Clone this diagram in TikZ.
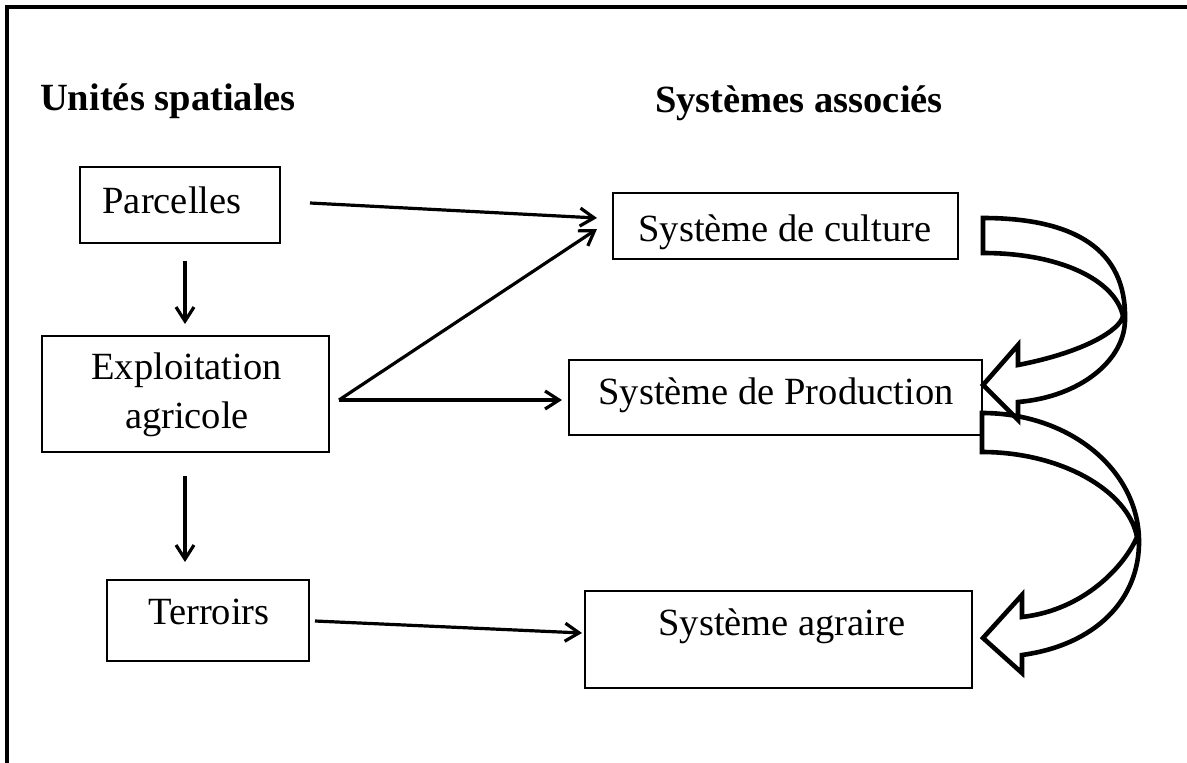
\documentclass[tikz,border=0pt]{standalone}
\usepackage{fontspec}
\setmainfont{Liberation Serif}
\usetikzlibrary{arrows.meta,calc}
\begin{document}
\begin{tikzpicture}[x=1pt,y=-1pt,
  box/.style={draw,line width=2pt,inner sep=0pt},
  txt/.style={font=\fontsize{38.5}{46}\selectfont,inner sep=0pt,anchor=base},
  head/.style={font=\fontsize{38.5}{46}\selectfont\bfseries,inner sep=0pt,anchor=base},
  conn/.style={line width=3.2pt,-{Straight Barb[length=14pt,width=18pt]}},
  blockarrow/.style={line width=4.6pt,line join=miter}]
\useasboundingbox (0,0) rectangle (1187,763);
% frame
\draw[line width=3.4pt] (7,770) -- (7,7) -- (1195,7);
% headings
\node[head] (h1) at (168,110) {Unités spatiales};
\node[head] (h2) at (799,112) {Systèmes associés};
% left boxes
\node[box,minimum width=200pt,minimum height=76pt] (parc) at (180,205) {};
\node[txt] (parct) at (172,213) {Parcelles};
\node[box,minimum width=287pt,minimum height=116pt] (expl) at (185.5,394) {};
\node[txt] (explt1) at (186.5,379) {Exploitation};
\node[txt] (explt2) at (187,428) {agricole};
\node[box,minimum width=202pt,minimum height=81pt] (terr) at (208,620.5) {};
\node[txt] (terrt) at (209,624) {Terroirs};
% right boxes
\node[box,minimum width=345pt,minimum height=66pt] (cult) at (785.5,226) {};
\node[txt] (cultt) at (785,241) {Système de culture};
\node[box,minimum width=413pt,minimum height=75pt] (prod) at (775.5,397.5) {};
\node[txt] (prodt) at (776,404) {Système de Production};
\node[box,minimum width=387pt,minimum height=97pt] (agr) at (778.5,639.5) {};
\node[txt] (agrt) at (782,635) {Système agraire};
% connectors
\draw[conn] ($(parc.east)+(29,-2)$) -- ($(cult.west)+(-15,-8)$);
\draw[conn] ($(expl.east)+(9,6)$) -- ($(cult.west)+(-15,3)$);
\draw[conn] ($(expl.east)+(9,6)$) -- ($(prod.west)+(-6,2.5)$);
\draw[conn] ($(parc.south)+(5,17)$) -- ($(expl.north)+(-0.5,-11)$);
\draw[conn] ($(expl.south)+(-0.5,23)$) -- ($(terr.north)+(-23,-17)$);
\draw[conn] ($(terr.east)+(5,0.5)$) -- ($(agr.west)+(-2,-6.5)$);
% curved block arrow 1 (culture -> production)
\draw[blockarrow] (983,218) -- (983,253)
  .. controls (1060,253) and (1115,280) .. (1123,316)
  .. controls (1120,330) and (1085,352) .. (1018,365)
  -- (1018,345) -- (983,385) -- (1018,420) -- (1018,402)
  .. controls (1080,397) and (1126,360) .. (1125,318)
  .. controls (1126,250) and (1075,218) .. (983,218) -- cycle;
% curved block arrow 2 (production -> agraire)
\draw[blockarrow] (982,413) -- (982,452)
  .. controls (1060,452) and (1128,490) .. (1137,537)
  .. controls (1125,565) and (1085,610) .. (1022,617)
  -- (1022,595) -- (983,638) -- (1022,673) -- (1022,655)
  .. controls (1095,645) and (1140,600) .. (1139,540)
  .. controls (1138,470) and (1070,413) .. (982,413) -- cycle;
\end{tikzpicture}
\end{document}
